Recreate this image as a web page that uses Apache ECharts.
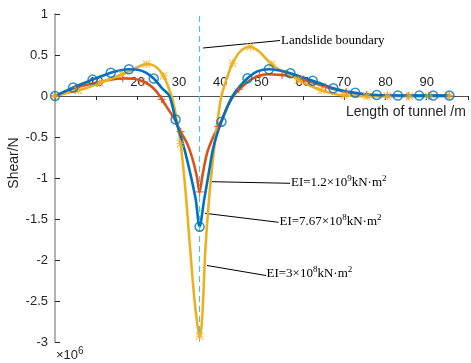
<!DOCTYPE html>
<html><head><meta charset="utf-8">
<script src="https://cdn.jsdelivr.net/npm/echarts@6/dist/echarts.min.js"></script>
<style>html,body{margin:0;padding:0;background:#fff}#c{width:471px;height:363px}</style>
</head><body><div id="c"></div>
<script>
// ---- data (x in m, shear in 1e6 N) ----
const xTicks = [0,10,20,30,40,50,60,70,80,90,100];
const yTicks = [-3,-2.5,-2,-1.5,-1,-0.5,0,0.5,1];
const boundaryX = 35;

// EI = 1.2e9 (orange)
const curveA = [[0,0],[2.5,0.05],[5,0.1],[7.5,0.135],[10,0.16],[12.5,0.19],[15,0.21],[17,0.215],[19,0.21],[21,0.185],[23,0.13],[24.5,0.06],[25.5,-0.01],[27,-0.13],[28.8,-0.27],[30.4,-0.435],[32,-0.58],[33.2,-0.75],[34.3,-0.97],[35,-1.17],[35.7,-0.97],[36.8,-0.7],[38.3,-0.5],[40.3,-0.3],[42,-0.1],[43.5,0.02],[45,0.1],[46.6,0.17],[49,0.24],[51.7,0.265],[54,0.26],[57,0.245],[60,0.2],[62.4,0.165],[65,0.12],[67.4,0.085],[70,0.055],[72.7,0.03],[75,0.017],[78,0.008],[83,0.003],[90,0.002],[95.5,0.002]];
const markA = [[0,0],[5,0.1],[10.2,0.16],[16.4,0.215],[21.5,0.175],[25.8,-0.04],[30.4,-0.435],[35,-1.17],[39.5,-0.37],[44.5,0.08],[49.5,0.245],[55,0.255],[60.2,0.2],[65.5,0.11],[70.5,0.05],[75.5,0.015],[80.5,0.005],[85.5,0.003],[90.5,0.002],[95.5,0.002]];

// EI = 7.67e8 (blue)
const curveB = [[0,0],[2.2,0.052],[4.4,0.104],[6.8,0.152],[9.1,0.2],[11.3,0.243],[13.5,0.284],[15.7,0.31],[17.9,0.326],[20,0.32],[22,0.285],[23.9,0.213],[26,0.09],[27.7,0],[29.2,-0.287],[30.5,-0.5],[31.6,-0.7],[33,-1.0],[34.1,-1.27],[35,-1.594],[36.1,-1.27],[37.2,-0.95],[38.2,-0.66],[39.2,-0.47],[40.3,-0.313],[41.6,-0.15],[43,0],[44.8,0.12],[46.6,0.216],[49,0.3],[51.8,0.326],[54.4,0.31],[57,0.277],[59.7,0.232],[62.4,0.187],[64.9,0.14],[67.4,0.094],[70,0.062],[72.7,0.04],[75.3,0.022],[77.9,0.012],[83,0.006],[88.2,0.005],[91.6,0.005],[95.5,0.005]];
const markB = [[0,0],[4.4,0.104],[9.1,0.2],[13.5,0.284],[17.9,0.326],[23.9,0.213],[29.2,-0.287],[35,-1.594],[40.3,-0.313],[46.6,0.216],[51.8,0.326],[57,0.277],[62.4,0.187],[67.4,0.094],[72.7,0.04],[77.9,0.012],[83,0.006],[88.2,0.005],[91.6,0.005],[95.5,0.005]];

// EI = 3e8 (yellow)
const curveC = [[0,0],[2.8,0.033],[5.6,0.068],[8.3,0.11],[10.8,0.16],[13.5,0.21],[16.2,0.265],[18,0.3],[19.5,0.34],[21,0.375],[22.2,0.39],[23.5,0.38],[24.8,0.34],[26.3,0.245],[27.5,0.1],[28.5,-0.05],[29.5,-0.3],[30.4,-0.58],[31.5,-1.1],[32.7,-1.85],[33.7,-2.45],[34.5,-2.8],[35,-2.93],[35.5,-2.8],[35.9,-2.45],[36.4,-1.88],[37.4,-1.2],[38.5,-0.66],[39.5,-0.25],[40.3,0],[41.5,0.2],[43,0.4],[45,0.55],[47.3,0.6],[49.5,0.54],[51,0.46],[52.5,0.387],[54,0.33],[55.5,0.29],[57,0.26],[58.9,0.195],[60.5,0.155],[62.5,0.11],[64.5,0.07],[66.5,0.04],[68,0.022],[70,0.008],[72.5,0],[75.5,-0.004],[80.5,-0.004],[85.8,-0.003],[90.5,-0.002],[95.5,0]];
const markC = [[0,0],[5.6,0.068],[10.8,0.16],[16.2,0.265],[22.2,0.39],[26.3,0.245],[30.4,-0.58],[35,-2.93],[43,0.4],[47.3,0.6],[52.5,0.387],[58.9,0.195],[64.5,0.07],[70,0.008],[75.5,-0.004],[80.5,-0.004],[85.8,-0.003],[90.5,-0.002],[95.5,0]];

const colA = '#D95319', colB = '#0072BD', colC = '#EDB120';
const PLUS = 'path://M4.2,0H5.8V10H4.2ZM0,4.2H10V5.8H0Z';
const STAR = 'path://M4.3,0H5.7V10H4.3ZM0,4.3H10V5.7H0ZM0,1L1,0L10,9L9,10ZM9,0L10,1L1,10L0,9Z';

const chart = echarts.init(document.getElementById('c'), null, {renderer:'canvas'});
const sans = "'Liberation Sans', Arial, Helvetica, sans-serif";
const serif = "'Liberation Serif', 'Times New Roman', serif";

function lineSeries(data, color, z) {
  return {type:'line', data, smooth:0.3, showSymbol:false, symbol:'none', z,
    lineStyle:{color, width:2.6}, itemStyle:{color}, animation:false};
}
function markSeries(data, color, symbol, size, z, hollow) {
  return {type:'scatter', data, symbol, symbolSize:size, z,
    itemStyle: hollow ? {color:'rgba(0,0,0,0)', borderColor:color, borderWidth:1.5} : {color},
    animation:false};
}

const gridTop = 14, gridBottom = 21, chartH = 363;
const plotH = chartH - gridTop - gridBottom;
// distance from bottom of plot to y=0 (axis sits on zero, labels above it)
const zeroOffset = plotH * (0 - yTicks[0]) / (yTicks[yTicks.length-1] - yTicks[0]);

const option = {
  animation:false,
  grid:{left:55, right:0, top:gridTop, bottom:gridBottom, containLabel:false},
  xAxis:{type:'value', min:xTicks[0], max:xTicks[xTicks.length-1], interval:10,
    position:'bottom', offset:-zeroOffset,
    axisLine:{onZero:false, lineStyle:{color:'#262626', width:0.8}},
    axisTick:{inside:false, length:4, lineStyle:{color:'#262626'}},
    axisLabel:{inside:true, margin:7, color:'#262626', fontSize:13, fontFamily:sans,
      formatter:v => (v===0||v===100) ? '' : String(v)},
    splitLine:{show:false}},
  yAxis:{type:'value', min:yTicks[0], max:yTicks[yTicks.length-1], interval:0.5,
    axisLine:{show:true, onZero:false, lineStyle:{color:'#b3b3b3', width:2}},
    axisTick:{show:true, inside:true, length:5, lineStyle:{color:'#262626'}},
    axisLabel:{margin:7, color:'#262626', fontSize:13, fontFamily:sans},
    splitLine:{show:false}},
  series:[
    Object.assign(lineSeries(curveA, colA, 2), {
      markLine:{silent:true, symbol:'none', label:{show:false},
        lineStyle:{color:'#4DBEEE', type:[6,4], width:1.2},
        data:[{xAxis:boundaryX}]}}),
    lineSeries(curveC, colC, 3),
    lineSeries(curveB, colB, 4),
    markSeries(markA, colA, PLUS, 8, 5, false),
    markSeries(markC, colC, STAR, 8, 6, false),
    markSeries(markB, colB, 'circle', 9, 7, true)
  ],
  graphic:[
    {type:'text', x:14, y:163, rotation:Math.PI/2, style:{text:'Shear/N', font:'14px '+sans, fill:'#262626', textAlign:'center', textVerticalAlign:'middle'}},
    {type:'text', x:346, y:112, style:{text:'Length of tunnel /m', font:'14px '+sans, fill:'#262626', textVerticalAlign:'middle'}},
    {type:'text', x:56, y:355, style:{text:'{a|×10}{s|6}', font:'13px '+sans, fill:'#262626', textVerticalAlign:'middle',
      rich:{a:{fontSize:13, fontFamily:sans, fill:'#262626'}, s:{fontSize:10, fontFamily:sans, fill:'#262626', padding:[0,0,8,0]}}}},
    {type:'line', shape:{x1:203, y1:48, x2:280, y2:40.5}, style:{stroke:'#000', lineWidth:1}},
    {type:'text', x:281, y:41, style:{text:'Landslide boundary', font:'13px '+serif, fill:'#000', textVerticalAlign:'middle'}},
    {type:'line', shape:{x1:211.5, y1:181.7, x2:290, y2:183.3}, style:{stroke:'#000', lineWidth:1}},
    {type:'text', x:291, y:183, style:{text:'{a|EI=1.2×10}{s|9}{a|kN·m}{s|2}', fill:'#000', textVerticalAlign:'middle',
      rich:{a:{fontSize:13, fontFamily:serif}, s:{fontSize:9, fontFamily:serif, padding:[0,0,8,0]}}}},
    {type:'line', shape:{x1:205, y1:213.3, x2:278.5, y2:222.3}, style:{stroke:'#000', lineWidth:1}},
    {type:'text', x:279.5, y:222, style:{text:'{a|EI=7.67×10}{s|8}{a|kN·m}{s|2}', fill:'#000', textVerticalAlign:'middle',
      rich:{a:{fontSize:13, fontFamily:serif}, s:{fontSize:9, fontFamily:serif, padding:[0,0,8,0]}}}},
    {type:'line', shape:{x1:207, y1:265.5, x2:266, y2:275.5}, style:{stroke:'#000', lineWidth:1}},
    {type:'text', x:266.5, y:274, style:{text:'{a|EI=3×10}{s|8}{a|kN·m}{s|2}', fill:'#000', textVerticalAlign:'middle',
      rich:{a:{fontSize:13, fontFamily:serif}, s:{fontSize:9, fontFamily:serif, padding:[0,0,8,0]}}}}
  ]
};
chart.setOption(option);
</script></body></html>
